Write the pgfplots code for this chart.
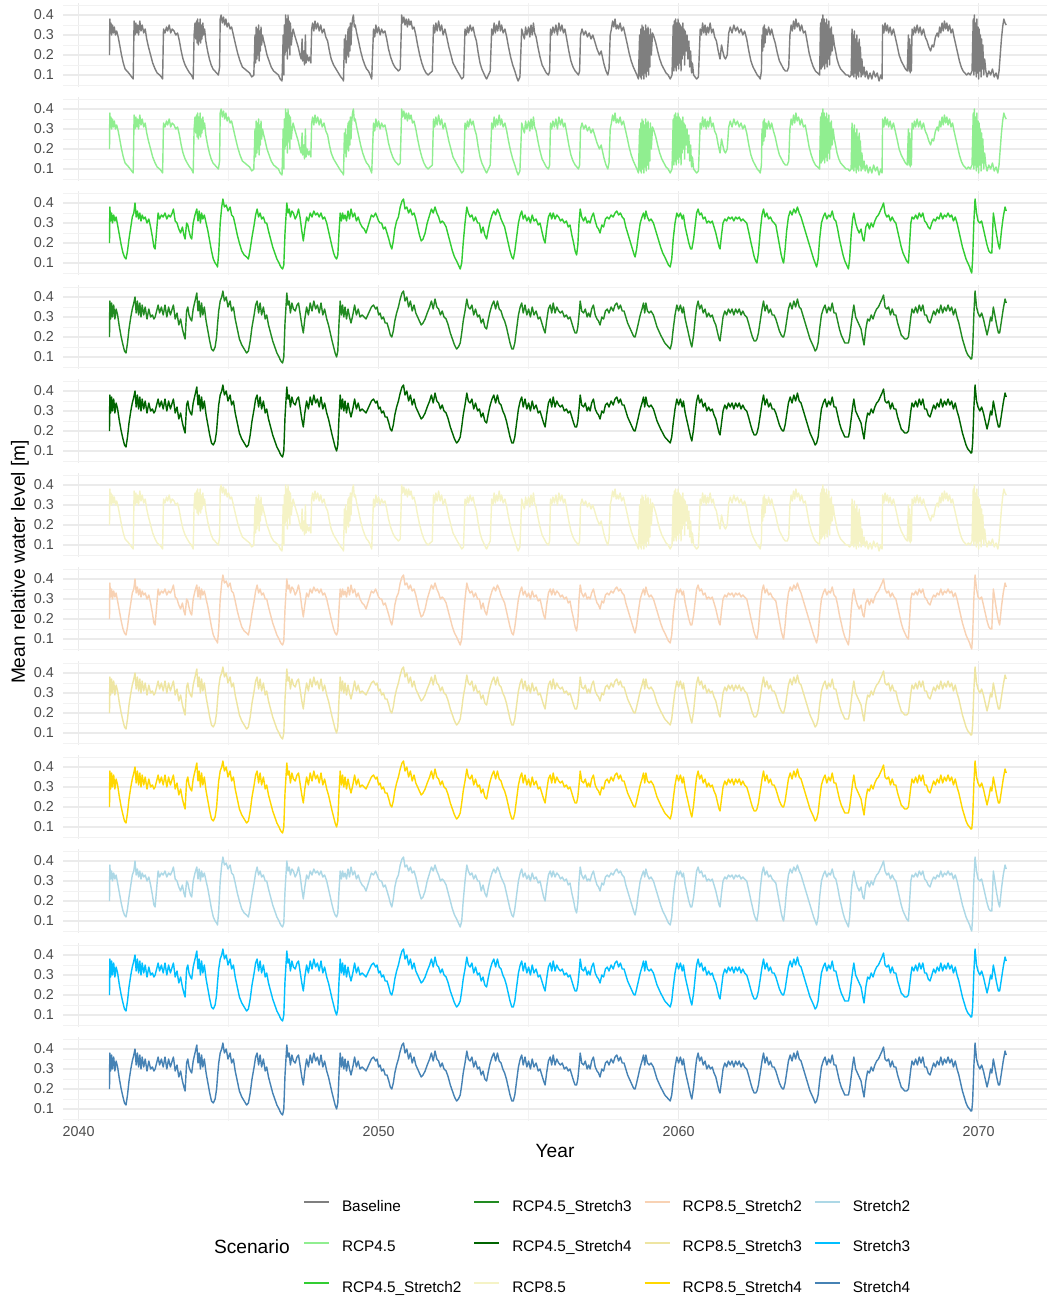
\documentclass[border=0pt]{standalone}
\usepackage{fontspec}
\setmainfont{Liberation Sans}
\usepackage{pgfplots}
\usepackage{pgfplotstable}
\pgfplotsset{compat=1.18}
\usepgfplotslibrary{groupplots}
\usetikzlibrary{calc}
\definecolor{cBase}{HTML}{7F7F7F}
\definecolor{cRa}{HTML}{90EE90}
\definecolor{cRaii}{HTML}{32CD32}
\definecolor{cRaiii}{HTML}{228B22}
\definecolor{cRaiv}{HTML}{006400}
\definecolor{cRb}{HTML}{F5F3C6}
\definecolor{cRbii}{HTML}{F8D2B4}
\definecolor{cRbiii}{HTML}{EEE5A2}
\definecolor{cRbiv}{HTML}{FFD700}
\definecolor{cSii}{HTML}{ADD8E6}
\definecolor{cSiii}{HTML}{00BFFF}
\definecolor{cSiv}{HTML}{4682B4}
\definecolor{tickgrey}{HTML}{4D4D4D}
\definecolor{gridmaj}{HTML}{EBEBEB}
\definecolor{gridmin}{HTML}{F2F2F2}

% Type A: Baseline, RCP4.5, RCP8.5 (t = years since 2040)
\pgfplotstableread[row sep=\\]{t v\\
1.03 .20\\1.04 .38\\1.06 .31\\1.08 .36\\1.10 .30\\1.13 .35\\1.16 .31\\1.19 .34\\1.23 .30\\1.27 .32\\1.32 .29\\1.37 .25\\1.43 .20\\1.49 .16\\1.55 .13\\1.61 .12\\1.67 .11\\1.72 .10\\1.77 .09\\1.82 .08\\1.85 .37\\1.88 .30\\1.91 .36\\1.94 .31\\1.97 .35\\
2.00 .30\\2.04 .37\\2.08 .32\\2.12 .35\\2.17 .31\\2.22 .33\\2.27 .28\\2.33 .24\\2.40 .20\\2.47 .16\\2.55 .13\\2.62 .11\\2.70 .10\\2.76 .09\\2.80 .08\\2.83 .33\\2.88 .31\\2.93 .34\\2.97 .32\\
3.02 .35\\3.07 .31\\3.12 .33\\3.18 .32\\3.24 .30\\3.30 .31\\3.36 .27\\3.42 .22\\3.48 .18\\3.55 .15\\3.62 .13\\3.70 .11\\3.76 .10\\3.82 .08\\3.85 .30\\3.88 .36\\3.91 .28\\3.93 .37\\3.95 .26\\3.97 .38\\3.99 .25\\
4.01 .36\\4.03 .27\\4.05 .38\\4.07 .26\\4.09 .35\\4.11 .28\\4.14 .36\\4.17 .30\\4.20 .33\\4.24 .27\\4.30 .22\\4.36 .18\\4.42 .15\\4.48 .13\\4.54 .12\\4.60 .11\\4.66 .10\\4.70 .14\\4.72 .38\\4.75 .40\\4.79 .36\\4.83 .39\\4.87 .35\\4.91 .38\\4.95 .34\\
5.00 .36\\5.05 .33\\5.10 .34\\5.16 .30\\5.22 .26\\5.30 .21\\5.38 .17\\5.46 .14\\5.54 .13\\5.62 .12\\5.70 .11\\5.77 .09\\5.84 .10\\5.88 .30\\5.90 .16\\5.92 .34\\5.94 .18\\5.96 .33\\5.98 .20\\
6.00 .35\\6.02 .17\\6.04 .32\\6.06 .22\\6.08 .34\\6.10 .25\\6.13 .30\\6.17 .27\\6.22 .24\\6.28 .20\\6.35 .17\\6.42 .14\\6.50 .12\\6.58 .11\\6.66 .10\\6.72 .08\\6.78 .07\\6.82 .30\\6.84 .10\\6.86 .35\\6.88 .20\\6.90 .40\\6.92 .22\\6.94 .38\\6.96 .18\\6.98 .40\\
7.00 .24\\7.02 .37\\7.04 .20\\7.06 .36\\7.09 .25\\7.12 .30\\7.15 .33\\7.20 .30\\7.26 .27\\7.32 .24\\7.38 .20\\7.42 .18\\7.45 .28\\7.47 .17\\7.50 .22\\7.53 .15\\7.56 .30\\7.58 .16\\7.62 .20\\7.66 .17\\7.70 .19\\7.74 .16\\7.77 .33\\7.80 .36\\7.84 .32\\7.88 .37\\7.92 .33\\7.97 .36\\
8.02 .32\\8.07 .35\\8.12 .31\\8.18 .33\\8.24 .29\\8.30 .27\\8.36 .22\\8.42 .18\\8.50 .15\\8.58 .13\\8.66 .11\\8.74 .09\\8.80 .08\\8.83 .07\\8.86 .28\\8.88 .18\\8.90 .30\\8.92 .16\\8.94 .27\\8.96 .20\\8.98 .33\\
9.00 .19\\9.02 .34\\9.04 .22\\9.06 .36\\9.08 .25\\9.10 .33\\9.13 .38\\9.16 .40\\9.19 .34\\9.22 .35\\9.27 .31\\9.33 .27\\9.40 .22\\9.47 .18\\9.54 .15\\9.60 .13\\9.66 .12\\9.72 .10\\9.77 .08\\9.83 .33\\9.87 .29\\9.91 .35\\9.95 .31\\
10.00 .34\\10.05 .30\\10.10 .33\\10.15 .31\\10.21 .32\\10.27 .28\\10.33 .23\\10.40 .19\\10.47 .16\\10.54 .14\\10.60 .13\\10.66 .12\\10.72 .13\\10.77 .40\\10.80 .36\\10.84 .39\\10.88 .35\\10.92 .38\\10.96 .34\\
11.00 .38\\11.04 .35\\11.08 .37\\11.13 .33\\11.18 .34\\11.24 .30\\11.30 .25\\11.37 .20\\11.44 .16\\11.51 .13\\11.58 .11\\11.65 .10\\11.72 .11\\11.79 .12\\11.83 .35\\11.87 .31\\11.91 .36\\11.95 .32\\
12.00 .37\\12.05 .32\\12.10 .35\\12.15 .30\\12.21 .33\\12.27 .29\\12.34 .24\\12.41 .20\\12.48 .16\\12.55 .14\\12.62 .12\\12.70 .10\\12.77 .08\\12.83 .09\\12.88 .33\\12.92 .30\\12.96 .34\\
13.00 .31\\13.05 .35\\13.10 .32\\13.15 .34\\13.20 .30\\13.26 .27\\13.32 .21\\13.38 .16\\13.44 .13\\13.50 .11\\13.56 .09\\13.60 .08\\13.66 .10\\13.72 .12\\13.77 .33\\13.81 .30\\13.85 .36\\13.89 .31\\13.93 .35\\13.97 .32\\
14.02 .37\\14.06 .32\\14.10 .35\\14.15 .31\\14.21 .33\\14.27 .29\\14.33 .24\\14.40 .19\\14.47 .15\\14.54 .12\\14.60 .09\\14.65 .07\\14.71 .09\\14.77 .33\\14.82 .30\\14.86 .28\\14.90 .34\\14.94 .30\\
15.00 .34\\15.04 .29\\15.08 .35\\15.12 .30\\15.16 .36\\15.20 .31\\15.25 .29\\15.31 .24\\15.38 .19\\15.45 .15\\15.52 .13\\15.59 .11\\15.66 .10\\15.70 .12\\15.73 .33\\15.77 .30\\15.81 .34\\15.86 .31\\15.91 .35\\15.96 .30\\
16.01 .36\\16.06 .32\\16.11 .35\\16.16 .31\\16.21 .33\\16.27 .28\\16.34 .22\\16.41 .17\\16.48 .14\\16.55 .12\\16.61 .11\\16.66 .10\\16.70 .12\\16.73 .30\\16.78 .33\\16.84 .30\\16.90 .32\\16.96 .29\\
17.02 .31\\17.08 .28\\17.14 .30\\17.20 .27\\17.28 .23\\17.36 .20\\17.42 .22\\17.46 .19\\17.52 .15\\17.58 .12\\17.64 .10\\17.68 .13\\17.72 .30\\17.76 .33\\17.80 .37\\17.84 .34\\17.88 .38\\17.92 .33\\17.96 .35\\
18.00 .33\\18.05 .36\\18.10 .32\\18.16 .34\\18.22 .30\\18.28 .26\\18.35 .21\\18.42 .17\\18.49 .14\\18.55 .12\\18.61 .10\\18.66 .08\\18.70 .30\\18.72 .09\\18.74 .33\\18.76 .08\\18.78 .35\\18.80 .10\\18.82 .34\\18.84 .08\\18.86 .32\\18.88 .11\\18.90 .35\\18.92 .09\\18.94 .33\\18.96 .12\\18.98 .34\\
19.00 .10\\19.02 .30\\19.04 .14\\19.06 .33\\19.09 .20\\19.13 .31\\19.18 .29\\19.24 .26\\19.30 .22\\19.37 .18\\19.44 .15\\19.51 .13\\19.58 .11\\19.65 .10\\19.72 .08\\19.78 .10\\19.82 .35\\19.84 .12\\19.86 .37\\19.88 .14\\19.90 .38\\19.92 .12\\19.94 .36\\19.96 .15\\19.98 .38\\
20.00 .13\\20.02 .36\\20.04 .16\\20.06 .35\\20.08 .12\\20.10 .34\\20.12 .18\\20.14 .36\\20.16 .20\\20.18 .33\\20.20 .15\\20.22 .32\\20.25 .22\\20.28 .30\\20.31 .18\\20.34 .27\\20.37 .14\\20.40 .22\\20.43 .11\\20.46 .16\\20.50 .10\\20.55 .09\\20.60 .08\\20.66 .09\\20.72 .33\\20.76 .30\\20.80 .36\\20.84 .31\\20.88 .35\\20.92 .30\\20.96 .34\\
21.00 .31\\21.05 .36\\21.10 .31\\21.15 .33\\21.20 .29\\21.26 .27\\21.32 .22\\21.38 .18\\21.43 .25\\21.47 .22\\21.52 .19\\21.56 .18\\21.62 .20\\21.67 .31\\21.72 .34\\21.78 .31\\21.84 .35\\21.90 .32\\21.96 .34\\
22.02 .31\\22.08 .33\\22.14 .30\\22.20 .32\\22.27 .28\\22.34 .22\\22.41 .17\\22.48 .14\\22.55 .12\\22.62 .10\\22.68 .09\\22.72 .08\\22.76 .12\\22.78 .30\\22.80 .22\\22.82 .34\\22.84 .24\\22.86 .35\\22.88 .26\\22.91 .33\\22.95 .30\\
23.00 .34\\23.05 .30\\23.10 .33\\23.16 .29\\23.22 .26\\23.29 .21\\23.36 .17\\23.43 .15\\23.50 .13\\23.56 .12\\23.62 .12\\23.67 .14\\23.71 .30\\23.75 .35\\23.79 .32\\23.83 .37\\23.87 .33\\23.91 .38\\23.95 .34\\
24.00 .36\\24.05 .32\\24.10 .35\\24.16 .31\\24.22 .32\\24.28 .27\\24.35 .21\\24.42 .17\\24.49 .14\\24.56 .12\\24.63 .11\\24.70 .10\\24.73 .36\\24.75 .13\\24.77 .38\\24.79 .14\\24.81 .40\\24.83 .15\\24.85 .38\\24.87 .13\\24.89 .36\\24.91 .16\\24.93 .38\\24.95 .14\\24.97 .35\\24.99 .18\\
25.01 .37\\25.03 .15\\25.05 .33\\25.07 .20\\25.09 .34\\25.12 .22\\25.15 .30\\25.19 .25\\25.23 .22\\25.28 .18\\25.34 .15\\25.40 .13\\25.46 .12\\25.52 .11\\25.58 .10\\25.64 .10\\25.70 .09\\25.75 .10\\25.78 .33\\25.80 .10\\25.82 .30\\25.84 .09\\25.86 .32\\25.88 .11\\25.90 .28\\25.92 .08\\25.94 .30\\25.96 .10\\25.98 .26\\
26.00 .09\\26.02 .28\\26.04 .12\\26.06 .24\\26.08 .09\\26.11 .18\\26.14 .10\\26.18 .14\\26.22 .09\\26.27 .12\\26.32 .08\\26.38 .11\\26.44 .08\\26.50 .12\\26.56 .09\\26.62 .11\\26.68 .07\\26.74 .10\\26.78 .08\\26.80 .35\\26.84 .31\\26.88 .36\\26.92 .32\\26.96 .35\\
27.00 .31\\27.05 .34\\27.10 .30\\27.16 .33\\27.22 .29\\27.28 .25\\27.35 .20\\27.42 .17\\27.49 .15\\27.56 .13\\27.62 .12\\27.66 .30\\27.68 .12\\27.70 .28\\27.72 .11\\27.74 .25\\27.76 .12\\27.78 .33\\27.82 .30\\27.86 .34\\27.90 .31\\27.95 .35\\
28.00 .31\\28.05 .34\\28.10 .30\\28.16 .33\\28.22 .29\\28.28 .27\\28.34 .24\\28.40 .22\\28.45 .25\\28.50 .24\\28.56 .29\\28.62 .31\\28.66 .29\\28.70 .34\\28.74 .31\\28.78 .36\\28.82 .32\\28.86 .37\\28.90 .33\\28.94 .36\\28.98 .32\\
29.03 .35\\29.08 .31\\29.13 .33\\29.18 .29\\29.24 .25\\29.30 .21\\29.36 .17\\29.42 .14\\29.48 .12\\29.54 .11\\29.60 .10\\29.66 .11\\29.72 .10\\29.78 .12\\29.82 .38\\29.84 .10\\29.86 .40\\29.88 .12\\29.90 .36\\29.92 .09\\29.94 .38\\29.96 .11\\29.98 .34\\
30.00 .08\\30.02 .33\\30.04 .12\\30.06 .30\\30.08 .09\\30.10 .28\\30.12 .13\\30.14 .25\\30.17 .10\\30.20 .18\\30.24 .12\\30.28 .09\\30.34 .12\\30.40 .10\\30.46 .13\\30.52 .09\\30.58 .11\\30.64 .08\\30.68 .12\\30.72 .20\\30.76 .28\\30.80 .34\\30.84 .38\\30.88 .36\\30.92 .35\\
}\tA

% Types B (Stretch2 scenarios) and C (Stretch3/Stretch4 scenarios)
\pgfplotstableread[row sep=\\]{t b c\\
1.03 .20 .20\\1.04 .38 .38\\1.07 .31 .29\\1.10 .35 .37\\1.13 .30 .30\\1.17 .34 .36\\1.21 .31 .29\\1.25 .33 .34\\1.30 .29 .31\\1.36 .24 .25\\1.42 .19 .20\\1.48 .15 .16\\1.53 .13 .13\\1.58 .12 .12\\1.63 .16 .17\\1.68 .22 .24\\1.74 .28 .30\\1.79 .33 .34\\1.84 .35 .37\\1.88 .40 .40\\1.92 .33 .32\\1.96 .36 .38\\
2.00 .32 .31\\2.04 .35 .37\\2.08 .31 .30\\2.12 .34 .36\\2.17 .32 .31\\2.22 .33 .35\\2.28 .30 .29\\2.34 .32 .34\\2.40 .28 .30\\2.46 .23 .31\\2.51 .18 .29\\2.55 .17 .30\\2.60 .26 .33\\2.65 .35 .36\\2.70 .32 .32\\2.76 .34 .35\\2.82 .33 .31\\2.88 .35 .36\\2.94 .32 .30\\
3.00 .34 .35\\3.06 .33 .31\\3.12 .35 .34\\3.16 .37 .36\\3.22 .31 .29\\3.28 .30 .32\\3.34 .27 .26\\3.40 .25 .29\\3.46 .28 .24\\3.51 .24 .21\\3.55 .22 .19\\3.60 .30 .33\\3.64 .29 .35\\3.68 .26 .31\\3.73 .23 .29\\3.77 .22 .28\\3.82 .30 .34\\3.88 .34 .38\\3.94 .37 .42\\3.98 .31 .33\\
4.02 .36 .38\\4.06 .30 .30\\4.10 .35 .37\\4.14 .32 .31\\4.19 .34 .35\\4.25 .30 .28\\4.31 .26 .23\\4.37 .21 .18\\4.43 .16 .14\\4.49 .12 .13\\4.55 .10 .15\\4.60 .09 .20\\4.63 .08 .26\\4.67 .15 .33\\4.72 .30 .38\\4.77 .38 .40\\4.81 .42 .43\\4.86 .38 .38\\4.92 .39 .40\\4.98 .36 .35\\
5.05 .38 .38\\5.10 .34 .33\\5.16 .33 .35\\5.22 .29 .29\\5.29 .24 .24\\5.36 .20 .19\\5.44 .16 .16\\5.52 .14 .14\\5.60 .13 .12\\5.66 .12 .13\\5.72 .17 .18\\5.78 .23 .25\\5.85 .29 .31\\5.90 .34 .36\\5.95 .37 .38\\
6.00 .33 .32\\6.05 .35 .37\\6.10 .32 .31\\6.16 .33 .35\\6.22 .30 .29\\6.27 .30 .31\\6.33 .26 .26\\6.40 .22 .22\\6.47 .18 .18\\6.54 .15 .15\\6.61 .12 .12\\6.68 .10 .10\\6.74 .08 .08\\6.80 .07 .07\\6.84 .09 .10\\6.88 .25 .27\\6.94 .40 .42\\6.98 .35 .36\\
7.02 .37 .38\\7.06 .33 .32\\7.11 .36 .37\\7.16 .35 .34\\7.22 .32 .33\\7.28 .34 .36\\7.33 .37 .37\\7.38 .33 .32\\7.44 .26 .26\\7.49 .21 .22\\7.54 .27 .29\\7.60 .33 .35\\7.66 .31 .31\\7.72 .35 .37\\7.78 .33 .33\\7.84 .36 .38\\7.90 .34 .34\\7.96 .35 .36\\
8.02 .33 .32\\8.08 .35 .37\\8.14 .32 .31\\8.20 .33 .34\\8.27 .30 .29\\8.33 .26 .26\\8.39 .22 .22\\8.45 .18 .18\\8.50 .15 .15\\8.55 .13 .12\\8.60 .12 .10\\8.64 .14 .13\\8.68 .25 .27\\8.72 .35 .38\\8.76 .31 .31\\8.80 .35 .36\\8.84 .32 .30\\8.88 .34 .35\\8.93 .31 .29\\8.98 .36 .34\\
9.03 .32 .30\\9.08 .37 .27\\9.14 .33 .31\\9.20 .35 .36\\9.26 .31 .31\\9.32 .33 .34\\9.38 .30 .30\\9.45 .28 .31\\9.52 .27 .30\\9.58 .25 .29\\9.64 .28 .31\\9.70 .31 .33\\9.76 .34 .35\\9.83 .33 .36\\9.90 .35 .34\\9.95 .33 .35\\
10.00 .31 .31\\10.05 .30 .32\\10.10 .30 .29\\10.16 .27 .30\\10.22 .28 .27\\10.28 .25 .27\\10.34 .22 .24\\10.39 .19 .21\\10.44 .17 .20\\10.49 .21 .23\\10.54 .27 .28\\10.60 .31 .32\\10.66 .33 .35\\10.72 .38 .39\\10.78 .41 .42\\10.83 .42 .43\\10.88 .37 .38\\10.94 .38 .40\\
11.00 .35 .35\\11.06 .37 .38\\11.12 .34 .33\\11.18 .35 .36\\11.24 .32 .32\\11.30 .28 .30\\11.36 .24 .28\\11.42 .21 .26\\11.48 .22 .27\\11.55 .25 .29\\11.62 .30 .32\\11.70 .34 .35\\11.76 .37 .38\\11.82 .35 .34\\11.88 .38 .39\\11.94 .35 .35\\
12.00 .33 .34\\12.06 .30 .31\\12.12 .31 .33\\12.18 .30 .30\\12.25 .28 .29\\12.32 .24 .26\\12.39 .20 .22\\12.46 .16 .19\\12.53 .13 .16\\12.60 .11 .14\\12.66 .09 .15\\12.72 .07 .17\\12.77 .10 .22\\12.82 .20 .28\\12.88 .30 .33\\12.94 .38 .39\\12.99 .35 .35\\
13.05 .33 .34\\13.11 .34 .36\\13.17 .31 .31\\13.23 .33 .34\\13.30 .30 .30\\13.36 .30 .31\\13.42 .25 .27\\13.48 .28 .29\\13.54 .24 .25\\13.60 .22 .24\\13.66 .27 .29\\13.72 .31 .33\\13.78 .34 .36\\13.84 .36 .38\\13.90 .34 .34\\13.96 .37 .38\\
14.02 .35 .34\\14.08 .32 .33\\14.14 .30 .30\\14.20 .28 .28\\14.26 .24 .25\\14.32 .20 .21\\14.38 .16 .17\\14.44 .13 .14\\14.49 .12 .14\\14.54 .16 .17\\14.60 .23 .24\\14.66 .30 .31\\14.72 .34 .35\\14.77 .36 .37\\14.82 .32 .32\\14.88 .34 .36\\14.94 .31 .31\\
15.00 .33 .34\\15.06 .30 .30\\15.12 .34 .35\\15.18 .31 .31\\15.25 .32 .33\\15.32 .29 .29\\15.38 .30 .30\\15.44 .26 .27\\15.50 .22 .24\\15.55 .20 .22\\15.60 .27 .28\\15.66 .33 .34\\15.72 .35 .36\\15.77 .32 .32\\15.82 .35 .37\\15.88 .32 .32\\15.94 .34 .35\\
16.00 .33 .33\\16.06 .31 .32\\16.12 .32 .33\\16.19 .30 .30\\16.26 .31 .31\\16.32 .28 .29\\16.38 .29 .30\\16.44 .24 .27\\16.50 .20 .24\\16.55 .16 .22\\16.60 .14 .22\\16.64 .19 .25\\16.68 .30 .31\\16.72 .37 .38\\16.77 .33 .33\\16.83 .31 .32\\16.89 .33 .34\\16.95 .30 .30\\
17.00 .31 .32\\17.05 .30 .30\\17.10 .33 .34\\17.16 .35 .36\\17.22 .31 .31\\17.28 .28 .29\\17.33 .27 .28\\17.38 .25 .26\\17.44 .29 .30\\17.50 .28 .29\\17.56 .32 .33\\17.62 .33 .34\\17.68 .32 .32\\17.75 .34 .35\\17.82 .33 .33\\17.88 .35 .36\\17.94 .36 .37\\
18.00 .34 .34\\18.06 .35 .36\\18.12 .33 .33\\18.18 .32 .33\\18.24 .28 .30\\18.30 .25 .27\\18.36 .22 .25\\18.42 .19 .23\\18.48 .16 .21\\18.52 .14 .20\\18.55 .13 .20\\18.60 .17 .23\\18.66 .24 .27\\18.72 .30 .31\\18.78 .33 .34\\18.83 .35 .37\\18.87 .32 .32\\18.91 .36 .37\\18.96 .33 .33\\
19.02 .31 .32\\19.08 .32 .33\\19.16 .30 .31\\19.22 .27 .28\\19.28 .24 .25\\19.34 .21 .23\\19.40 .18 .21\\19.47 .15 .19\\19.54 .13 .17\\19.60 .11 .16\\19.66 .09 .15\\19.72 .08 .14\\19.77 .12 .17\\19.82 .22 .24\\19.88 .30 .31\\19.94 .35 .36\\
20.00 .33 .33\\20.06 .35 .36\\20.12 .32 .32\\20.16 .34 .35\\20.22 .28 .29\\20.28 .24 .25\\20.34 .20 .21\\20.40 .17 .17\\20.44 .17 .15\\20.50 .22 .21\\20.56 .30 .30\\20.60 .35 .35\\20.65 .37 .38\\20.70 .34 .34\\20.76 .35 .36\\20.82 .32 .32\\20.88 .33 .34\\20.94 .30 .30\\
21.00 .31 .32\\21.06 .30 .30\\21.12 .31 .31\\21.18 .28 .28\\21.24 .25 .26\\21.30 .21 .22\\21.35 .18 .19\\21.38 .17 .18\\21.43 .24 .24\\21.48 .30 .30\\21.54 .32 .33\\21.60 .31 .31\\21.66 .33 .34\\21.72 .32 .32\\21.78 .33 .34\\21.84 .31 .31\\21.90 .33 .34\\21.96 .32 .32\\
22.02 .33 .34\\22.08 .31 .31\\22.14 .32 .33\\22.20 .31 .31\\22.27 .30 .30\\22.33 .26 .27\\22.40 .21 .23\\22.46 .17 .20\\22.52 .13 .18\\22.57 .11 .18\\22.61 .10 .19\\22.66 .15 .22\\22.72 .26 .28\\22.78 .34 .34\\22.83 .37 .38\\22.88 .33 .33\\22.94 .35 .36\\
23.00 .32 .32\\23.06 .33 .34\\23.12 .31 .31\\23.18 .30 .31\\23.24 .29 .29\\23.30 .24 .26\\23.36 .19 .23\\23.42 .14 .21\\23.47 .11 .20\\23.50 .10 .20\\23.55 .17 .23\\23.60 .26 .28\\23.66 .33 .34\\23.72 .36 .37\\23.78 .34 .34\\23.84 .37 .38\\23.90 .35 .35\\23.96 .38 .39\\
24.02 .35 .35\\24.08 .33 .34\\24.14 .30 .31\\24.20 .27 .28\\24.26 .24 .25\\24.32 .21 .22\\24.38 .18 .19\\24.44 .15 .17\\24.50 .12 .15\\24.55 .10 .13\\24.60 .08 .14\\24.65 .12 .17\\24.70 .22 .24\\24.76 .30 .31\\24.82 .33 .34\\24.88 .35 .36\\24.94 .32 .32\\
25.00 .34 .35\\25.06 .33 .33\\25.12 .36 .37\\25.18 .32 .32\\25.24 .31 .32\\25.30 .27 .28\\25.36 .22 .24\\25.42 .18 .21\\25.48 .14 .19\\25.54 .11 .17\\25.60 .09 .17\\25.66 .07 .17\\25.70 .12 .20\\25.75 .24 .26\\25.80 .32 .32\\25.84 .35 .36\\25.90 .30 .30\\25.96 .27 .28\\
26.02 .25 .26\\26.08 .27 .24\\26.14 .22 .19\\26.18 .21 .16\\26.24 .28 .24\\26.30 .30 .29\\26.36 .27 .28\\26.42 .30 .31\\26.48 .28 .29\\26.54 .31 .32\\26.60 .33 .34\\26.66 .34 .35\\26.72 .36 .37\\26.78 .38 .39\\26.83 .40 .41\\26.88 .35 .35\\26.94 .33 .34\\
27.00 .34 .35\\27.06 .31 .31\\27.12 .33 .34\\27.18 .31 .31\\27.24 .30 .31\\27.30 .26 .27\\27.36 .22 .24\\27.42 .18 .21\\27.48 .15 .20\\27.54 .13 .19\\27.60 .11 .19\\27.66 .10 .20\\27.70 .20 .25\\27.74 .30 .30\\27.78 .33 .34\\27.84 .32 .32\\27.90 .34 .35\\27.96 .32 .32\\
28.02 .35 .36\\28.08 .33 .33\\28.14 .35 .36\\28.20 .31 .31\\28.26 .30 .31\\28.32 .28 .28\\28.38 .27 .27\\28.44 .30 .30\\28.50 .32 .33\\28.56 .31 .31\\28.62 .33 .34\\28.68 .32 .32\\28.74 .35 .36\\28.80 .32 .32\\28.86 .34 .35\\28.92 .33 .33\\28.98 .35 .36\\
29.04 .33 .33\\29.10 .34 .35\\29.16 .31 .31\\29.22 .33 .34\\29.28 .30 .30\\29.34 .26 .27\\29.40 .22 .23\\29.46 .18 .19\\29.52 .15 .16\\29.58 .12 .13\\29.64 .10 .11\\29.70 .08 .10\\29.74 .06 .09\\29.77 .05 .09\\29.80 .12 .14\\29.84 .30 .31\\29.88 .42 .43\\29.93 .35 .35\\29.98 .31 .32\\
30.04 .30 .30\\30.10 .31 .32\\30.16 .27 .29\\30.22 .23 .25\\30.28 .19 .21\\30.34 .16 .25\\30.40 .15 .30\\30.44 .15 .28\\30.49 .35 .35\\30.54 .30 .31\\30.60 .24 .26\\30.66 .19 .22\\30.70 .17 .22\\30.76 .26 .28\\30.82 .33 .34\\30.88 .38 .39\\30.92 .36 .37\\
}\tB

\begin{document}
\begin{tikzpicture}
\begin{groupplot}[
  group style={group size=1 by 12, vertical sep=6pt, xticklabels at=edge bottom},
  width=590.4pt, height=50.4pt, scale only axis,
  xmin=-0.52, xmax=32.28, ymin=0.04, ymax=0.46,
  xtick={0,10,20,30}, xticklabels={2040,2050,2060,2070},
  minor xtick={5,15,25},
  ytick={0.1,0.2,0.3,0.4}, yticklabels={0.1,0.2,0.3,0.4},
  minor ytick={0.05,0.15,0.25,0.35,0.45},
  grid=both,
  major grid style={draw=gridmaj, line width=0.7pt},
  minor grid style={draw=gridmin, line width=0.45pt},
  axis line style={draw=none},
  major tick length=0pt, minor tick length=0pt,
  tick label style={font=\fontsize{8.6}{10}\selectfont, text=tickgrey},
  yticklabel style={xshift=-2pt},
  every axis plot/.append style={line width=0.85pt, line join=round},
]
\nextgroupplot
\coordinate (TL) at (rel axis cs:0,1);
\addplot[cBase] table[x=t,y=v]{\tA};
\nextgroupplot
\addplot[cRa] table[x=t,y=v]{\tA};
\nextgroupplot
\addplot[cRaii] table[x=t,y=b]{\tB};
\nextgroupplot
\addplot[cRaiii] table[x=t,y=c]{\tB};
\nextgroupplot
\addplot[cRaiv] table[x=t,y=c]{\tB};
\nextgroupplot
\addplot[cRb] table[x=t,y=v]{\tA};
\nextgroupplot
\addplot[cRbii] table[x=t,y=b]{\tB};
\nextgroupplot
\addplot[cRbiii] table[x=t,y=c]{\tB};
\nextgroupplot
\addplot[cRbiv] table[x=t,y=c]{\tB};
\nextgroupplot
\addplot[cSii] table[x=t,y=b]{\tB};
\nextgroupplot
\addplot[cSiii] table[x=t,y=c]{\tB};
\nextgroupplot[
  legend style={at={(axis description cs:0.2439,-0.944)}, anchor=north west, draw=none, fill=none,
    inner sep=0pt, outer sep=0pt, font=\fontsize{9.2}{11}\selectfont, column sep=7.2pt, row sep=16pt,
    nodes={inner sep=0pt, text height=6.6pt, text depth=1.7pt}},
  legend cell align=left,
  legend columns=4,
  legend image code/.code={\draw[line width=1.2pt] (0pt,3pt) -- (15pt,3pt);},
]
\coordinate (BL) at (rel axis cs:0,0);
\coordinate (BR) at (rel axis cs:1,0);
\coordinate (YR) at (axis description cs:0.5,-0.357);
\coordinate (SC) at (axis description cs:0.2307,-1.5);
\addplot[cSiv, forget plot] table[x=t,y=c]{\tB};
\addlegendimage{cBase}\addlegendentry{Baseline}
\addlegendimage{cRaiii}\addlegendentry{RCP4.5\_Stretch3}
\addlegendimage{cRbii}\addlegendentry{RCP8.5\_Stretch2}
\addlegendimage{cSii}\addlegendentry{Stretch2}
\addlegendimage{cRa}\addlegendentry{RCP4.5}
\addlegendimage{cRaiv}\addlegendentry{RCP4.5\_Stretch4}
\addlegendimage{cRbiii}\addlegendentry{RCP8.5\_Stretch3}
\addlegendimage{cSiii}\addlegendentry{Stretch3}
\addlegendimage{cRaii}\addlegendentry{RCP4.5\_Stretch2}
\addlegendimage{cRb}\addlegendentry{RCP8.5}
\addlegendimage{cRbiv}\addlegendentry{RCP8.5\_Stretch4}
\addlegendimage{cSiv}\addlegendentry{Stretch4}
\end{groupplot}
\node[font=\fontsize{11.5}{14}\selectfont] at (YR) {Year};
\node[anchor=east, inner sep=0pt, font=\fontsize{11.5}{14}\selectfont] at (SC) {Scenario};
\node[rotate=90, font=\fontsize{11.5}{14}\selectfont] at ($(TL)!0.5!(BL)+(-25.8pt,0)$) {Mean relative water level [m]};
\pgfresetboundingbox
\path[use as bounding box] ($(TL)+(-37.8pt,1.8pt)$) rectangle ($(BR)+(0pt,-105.6pt)$);
\end{tikzpicture}
\end{document}
